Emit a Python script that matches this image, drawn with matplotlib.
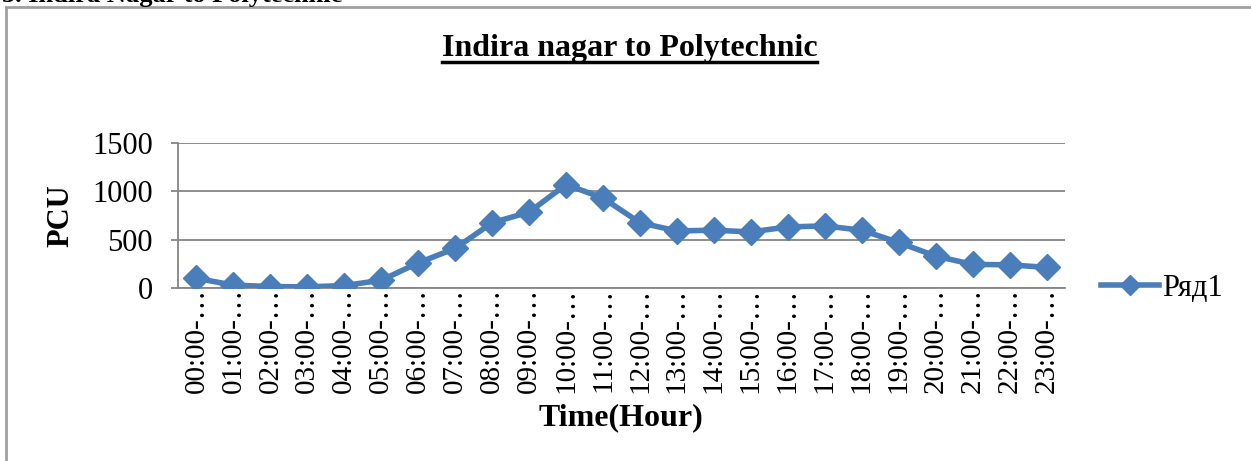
import matplotlib.pyplot as plt
from matplotlib.lines import Line2D

hours = ["00:00-…", "01:00-…", "02:00-…", "03:00-…", "04:00-…", "05:00-…",
         "06:00-…", "07:00-…", "08:00-…", "09:00-…", "10:00-…", "11:00-…",
         "12:00-…", "13:00-…", "14:00-…", "15:00-…", "16:00-…", "17:00-…",
         "18:00-…", "19:00-…", "20:00-…", "21:00-…", "22:00-…", "23:00-…"]
pcu = [100, 30, 15, 12, 25, 80, 260, 410, 675, 785, 1070, 930,
       675, 590, 598, 580, 632, 642, 598, 471, 330, 244, 240, 213]
yticks = [0, 500, 1000, 1500]

plt.rcParams['font.family'] = ['Liberation Serif', 'DejaVu Serif']

W, H = 1251, 461
fig = plt.figure(figsize=(W / 100, H / 100), dpi=100)
ax = fig.add_axes([178 / W, 1 - 288 / H, (1065 - 178) / W, (288 - 143) / H])

x = list(range(len(hours)))
ax.plot(x, pcu, color='#4A7EBB', lw=4, marker='D', markersize=13.5,
        label='Ряд1', zorder=3)

ax.set_xlim(-0.5, len(hours) - 0.5)
ax.set_ylim(0, 1500)
ax.set_yticks(yticks)
ax.set_yticklabels([str(v) for v in yticks], fontsize=22)
ax.set_xticks(x)
ax.set_xticklabels(hours, rotation=90, fontsize=21)
ax.tick_params(axis='x', length=0, pad=0)
ax.tick_params(axis='y', length=5, color='#868686', width=1.3, pad=13)
ax.grid(axis='y', color='#868686', lw=1.3)
ax.set_axisbelow(True)
for s in ['top', 'right']:
    ax.spines[s].set_visible(False)
ax.spines['left'].set_color('#868686')
ax.spines['bottom'].set_color('#868686')
ax.spines['left'].set_linewidth(1.3)
ax.spines['bottom'].set_linewidth(1.3)

ax.set_ylabel('PCU', fontsize=22, fontweight='bold', labelpad=12)
fig.text(621 / W, 1 - 418 / H, 'Time(Hour)', fontsize=23, fontweight='bold',
         ha='center', va='center')

ax.legend(loc='center left', bbox_to_anchor=(1.01, 0.0), frameon=False,
          fontsize=22, handlelength=1.9, handletextpad=0.1, markerscale=0.75)

# title with underline
fig.text(630 / W, 1 - 56 / H, 'Indira nagar to Polytechnic', fontsize=23,
         fontweight='bold', ha='center', va='baseline')
fig.add_artist(Line2D([442 / W, 817 / W], [1 - 62 / H, 1 - 62 / H],
                      color='black', lw=2.5))

# cut-off heading from the page above
fig.text(2 / W, 1 - 2 / H, '3. Indira Nagar to Polytechnic', fontsize=19,
         fontweight='bold', ha='left', va='baseline')

# chart frame
fig.add_artist(Line2D([6 / W, 6 / W], [0, 1 - 7 / H], color='#a0a0a0', lw=2))
fig.add_artist(Line2D([6 / W, 1], [1 - 7 / H, 1 - 7 / H], color='#a0a0a0', lw=2))

fig.savefig('out.png', dpi=100)
